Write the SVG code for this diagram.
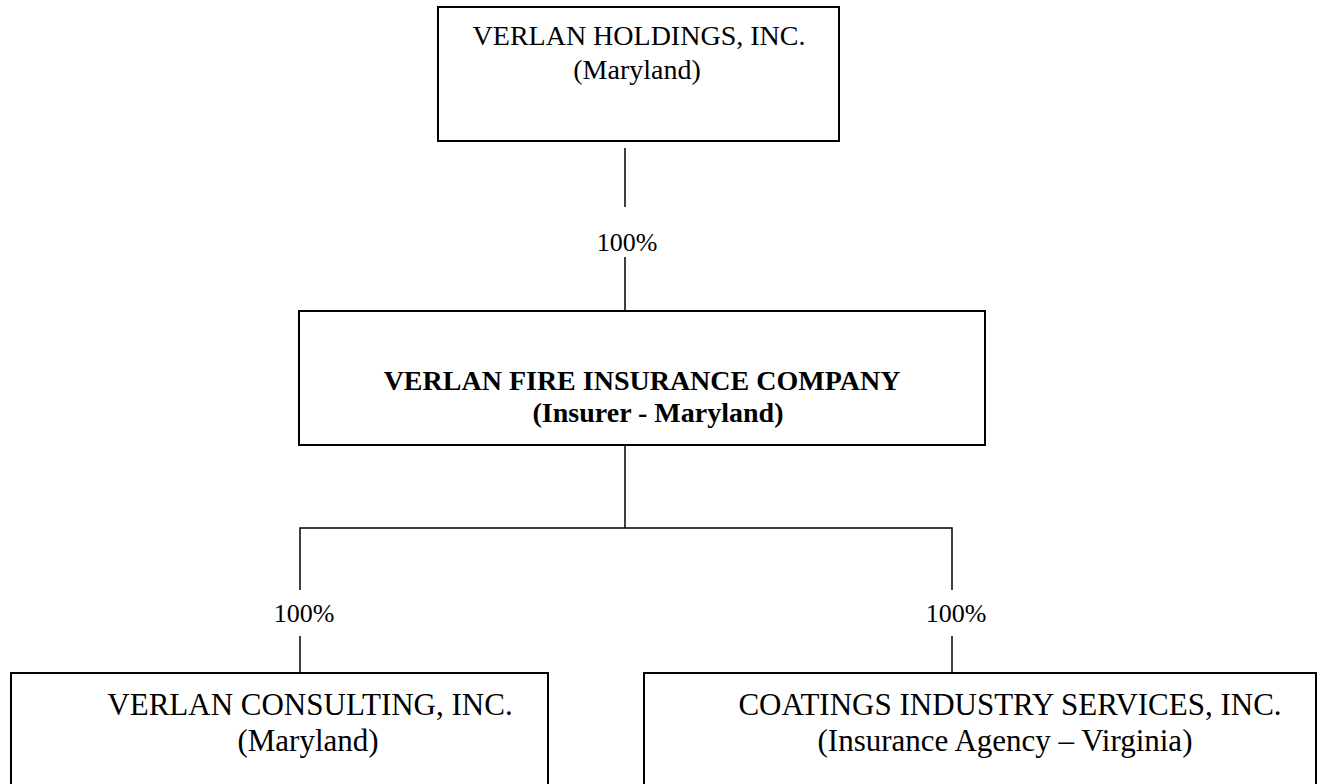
<svg xmlns="http://www.w3.org/2000/svg" width="1317" height="784" viewBox="0 0 1317 784">
<style>
.box{fill:#fff;stroke:#000;stroke-width:2}
.t{font-family:"Liberation Serif","Times New Roman",serif;fill:#000}
.n{font-size:28px}
.b{font-size:28px;font-weight:bold}
.s{font-size:31px}
.p{font-size:26px}
.c{stroke:#000;stroke-width:1.5;fill:none}
</style>
<rect width="1317" height="784" fill="#fff"/>
<g id="connectors">
<line class="c" x1="625" y1="148" x2="625" y2="207"/>
<line class="c" x1="625" y1="257" x2="625" y2="316"/>
<line class="c" x1="625" y1="445" x2="625" y2="528"/>
<polyline class="c" points="300,590 300,528 952,528 952,590"/>
<line class="c" x1="300" y1="636" x2="300" y2="686"/>
<line class="c" x1="952" y1="636" x2="952" y2="686"/>
<text class="t p" x="627" y="251" text-anchor="middle">100%</text>
<text class="t p" x="304" y="622" text-anchor="middle">100%</text>
<text class="t p" x="956" y="622" text-anchor="middle">100%</text>
</g>
<g id="holdings">
<rect class="box" x="438" y="7" width="401" height="134"/>
<text class="t n" x="639" y="45" text-anchor="middle">VERLAN HOLDINGS, INC.</text>
<text class="t n" x="637" y="79" text-anchor="middle">(Maryland)</text>
</g>
<g id="fire">
<rect class="box" x="299" y="311" width="686" height="134"/>
<text class="t b" x="642" y="390" text-anchor="middle">VERLAN FIRE INSURANCE COMPANY</text>
<text class="t b" x="658" y="422" text-anchor="middle">(Insurer - Maryland)</text>
</g>
<g id="consulting">
<rect class="box" x="11" y="673" width="537" height="130"/>
<text class="t s" x="310" y="715" text-anchor="middle">VERLAN CONSULTING, INC.</text>
<text class="t s" x="308" y="751" text-anchor="middle">(Maryland)</text>
</g>
<g id="coatings">
<rect class="box" x="644" y="673" width="672" height="130"/>
<text class="t s" x="1010" y="715" text-anchor="middle">COATINGS INDUSTRY SERVICES, INC.</text>
<text class="t s" x="1005" y="751" text-anchor="middle">(Insurance Agency – Virginia)</text>
</g>
</svg>
